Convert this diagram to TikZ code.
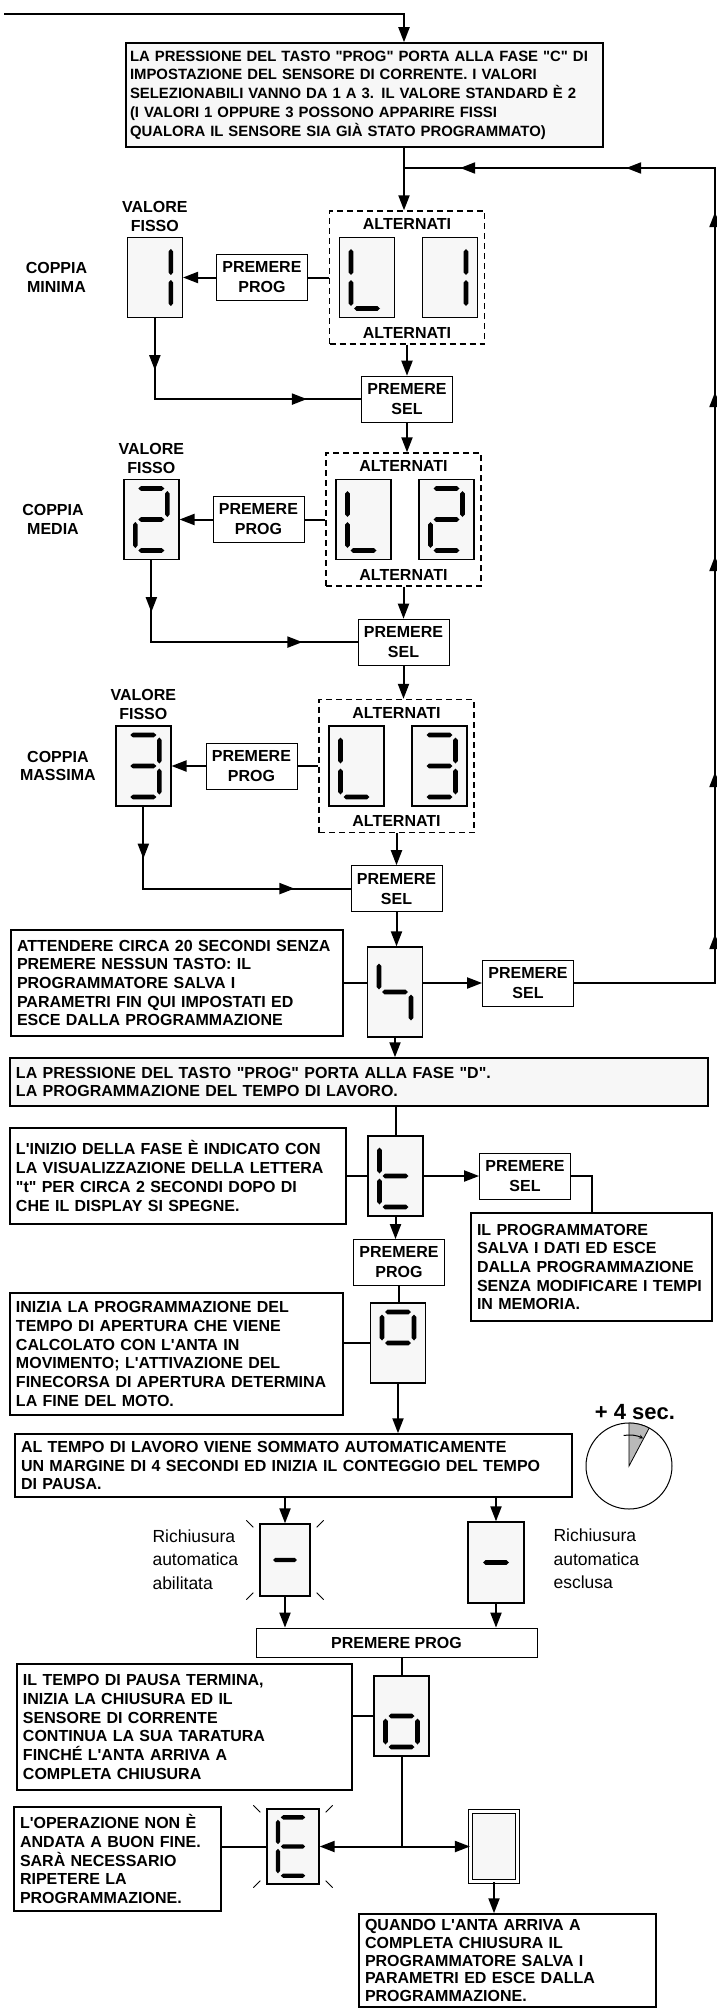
\documentclass[tikz,border=0pt]{standalone}
\usepackage{fontspec}
\setmainfont{Liberation Sans}
\usetikzlibrary{positioning,arrows.meta,decorations.markings}

% straight apostrophe and quotes as in the original
\newcommand{\ap}{\textquotesingle}
\newcommand{\qq}{\textquotedbl}
% segments of a seven-segment digit (coordinates from the display centre)
\newcommand{\hseg}[1]{\fill (-13,#1) -- (-10.5,#1-2.3) -- (10.5,#1-2.3) -- (13,#1) -- (10.5,#1+2.3) -- (-10.5,#1+2.3) -- cycle;}
\newcommand{\vseg}[3]{\fill (#1,#2) -- (#1+2.3,#2+2.5) -- (#1+2.3,#3-2.5) -- (#1,#3) -- (#1-2.3,#3-2.5) -- (#1-2.3,#2+2.5) -- cycle;}
\newcommand{\dsega}{\hseg{-31}}
\newcommand{\dsegb}{\vseg{16}{-28.5}{-2.5}}
\newcommand{\dsegc}{\vseg{16}{2.5}{28.5}}
\newcommand{\dsegd}{\hseg{31}}
\newcommand{\dsege}{\vseg{-16}{2.5}{28.5}}
\newcommand{\dsegf}{\vseg{-16}{-28.5}{-2.5}}
\newcommand{\dsegg}{\hseg{0}}
\newcommand{\segdigit}[3][1]{%
  \begin{scope}[shift={(#2.center)},scale=#1]
    \foreach \s in {#3}{\csname dseg\s\endcsname}
  \end{scope}}
% little rays round a blinking display
\newcommand{\blinkrays}[1]{\draw[blinkray] ([shift={(-13,-3)}]#1.north west) -- ++(7,7)
  ([shift={(13,-3)}]#1.north east) -- ++(-7,7)
  ([shift={(-13,3)}]#1.south west) -- ++(7,-7)
  ([shift={(13,3)}]#1.south east) -- ++(-7,-7);}

\begin{document}
\begin{tikzpicture}[x=1pt,y=-1pt,
  every node/.style={font=\bfseries\fontsize{16}{18.7}\selectfont},
  txtbox/.style={draw,line width=1.5pt,align=left,inner xsep=6pt,inner ysep=2pt},
  greybox/.style={txtbox,fill=gray!6},
  keybox/.style={draw,line width=0.8pt,align=center,minimum width=91pt,minimum height=46pt,inner sep=1pt,font=\bfseries\fontsize{16}{20}\selectfont},
  altbox/.style={draw,dash pattern=on 6pt off 4pt,line width=1.4pt,minimum width=155pt,minimum height=133pt,inner sep=0pt},
  disp/.style={draw,line width=1.3pt,fill=gray!6,minimum width=55pt,minimum height=80pt,inner sep=0pt},
  flow/.style={line width=2pt},
  arr/.style={flow,-{Triangle[length=15pt,width=11pt]}},
  midtip/.style={postaction={decorate,decoration={markings,mark=at position #1 with {\arrow{Triangle[length=15pt,width=11pt]}}}}},
  blinkray/.style={line width=0.8pt},
  note/.style={font=\fontsize{17.5}{23.5}\selectfont,align=left}]
\useasboundingbox (0,0) rectangle (716,2009);

% phase C
\coordinate (entry) at (4,14);
\coordinate (j1) at (404,168);
\coordinate (rr) at (715,168);
\node[greybox,inner xsep=4pt,text width=469pt,minimum height=104pt,font=\bfseries\fontsize{14.9}{18.7}\selectfont] (intro) at (364.5,95) {LA PRESSIONE DEL TASTO \qq PROG\qq{} PORTA ALLA FASE \qq C\qq{} DI\\IMPOSTAZIONE DEL SENSORE DI CORRENTE. I VALORI\\SELEZIONABILI VANNO DA 1 A 3. IL VALORE STANDARD È 2\\(I VALORI 1 OPPURE 3 POSSONO APPARIRE FISSI\\QUALORA IL SENSORE SIA GIÀ STATO PROGRAMMATO)};

% coppia minima
\node[altbox] (alt1) at (407,277.5) {};
\node[disp] (a1l) at ([xshift=-40pt]alt1.center) {};
\node[disp] (a1r) at ([xshift=43pt]alt1.center) {};
\node[below=5pt of alt1.north] (t1a) {ALTERNATI};
\node[above=3pt of alt1.south] (t1b) {ALTERNATI};
\node[keybox,left=21pt of alt1] (prog1) {PREMERE\\PROG};
\node[disp,left=33pt of prog1] (fix1) {};
\node[align=center,above=2pt of fix1] (v1) {VALORE\\FISSO};
\node[align=center,left=36pt of fix1] (c1) {COPPIA\\MINIMA};
\node[keybox,below=31pt of alt1] (sel1) {PREMERE\\SEL};

% coppia media
\node[altbox] (alt2) at (403.5,519.5) {};
\node[disp] (a2l) at ([xshift=-40pt]alt2.center) {};
\node[disp] (a2r) at ([xshift=43pt]alt2.center) {};
\node[below=5pt of alt2.north] (t2a) {ALTERNATI};
\node[above=3pt of alt2.south] (t2b) {ALTERNATI};
\node[keybox,left=21pt of alt2] (prog2) {PREMERE\\PROG};
\node[disp,left=33pt of prog2] (fix2) {};
\node[align=center,above=2pt of fix2] (v2) {VALORE\\FISSO};
\node[align=center,left=36pt of fix2] (c2) {COPPIA\\MEDIA};
\node[keybox,below=32pt of alt2] (sel2) {PREMERE\\SEL};

% coppia massima
\node[altbox] (alt3) at (396.5,766) {};
\node[disp] (a3l) at ([xshift=-40pt]alt3.center) {};
\node[disp] (a3r) at ([xshift=43pt]alt3.center) {};
\node[below=5pt of alt3.north] (t3a) {ALTERNATI};
\node[above=3pt of alt3.south] (t3b) {ALTERNATI};
\node[keybox,left=21pt of alt3] (prog3) {PREMERE\\PROG};
\node[disp,left=34pt of prog3] (fix3) {};
\node[align=center,above=2pt of fix3] (v3) {VALORE\\FISSO};
\node[align=center,left=16pt of fix3] (c3) {COPPIA\\MASSIMA};
\node[keybox,below=32pt of alt3] (sel3) {PREMERE\\SEL};

% exit or phase D
\node[disp,minimum height=90pt] (disp4) at (395,992) {};
\node[txtbox,text width=320pt,minimum height=106pt] (wait) at (177,983) {ATTENDERE CIRCA 20 SECONDI SENZA\\PREMERE NESSUN TASTO: IL\\PROGRAMMATORE SALVA I\\PARAMETRI FIN QUI IMPOSTATI ED\\ESCE DALLA PROGRAMMAZIONE};
\node[keybox] (sel4) at (528,983) {PREMERE\\SEL};
\node[greybox,text width=686pt,minimum height=48pt] (phaseD) at (359,1082) {LA PRESSIONE DEL TASTO \qq PROG\qq{} PORTA ALLA FASE \qq D\qq.\\LA PROGRAMMAZIONE DEL TEMPO DI LAVORO.};

\node[disp] (dispt) at (395.5,1176) {};
\node[txtbox,text width=324pt,minimum height=96pt] (start) at (178,1176) {L\ap INIZIO DELLA FASE È INDICATO CON\\LA VISUALIZZAZIONE DELLA LETTERA\\\qq t\qq{} PER CIRCA 2 SECONDI DOPO DI\\CHE IL DISPLAY SI SPEGNE.};
\node[keybox] (sel5) at (525,1176) {PREMERE\\SEL};
\node[txtbox,text width=229pt,minimum height=108pt] (save) at (591.5,1267) {IL PROGRAMMATORE\\SALVA I DATI ED ESCE\\DALLA PROGRAMMAZIONE\\SENZA MODIFICARE I TEMPI\\IN MEMORIA.};
\node[keybox] (prog5) at (399,1262.5) {PREMERE\\PROG};

\node[disp] (disp0) at (398,1343) {};
\node[txtbox,text width=321pt,minimum height=122pt] (init) at (176.5,1354) {INIZIA LA PROGRAMMAZIONE DEL\\TEMPO DI APERTURA CHE VIENE\\CALCOLATO CON L\ap ANTA IN\\MOVIMENTO; L\ap ATTIVAZIONE DEL\\FINECORSA DI APERTURA DETERMINA\\LA FINE DEL MOTO.};
\node[txtbox,text width=545pt,minimum height=63pt] (pause) at (293.5,1465.5) {AL TEMPO DI LAVORO VIENE SOMMATO AUTOMATICAMENTE\\UN MARGINE DI 4 SECONDI ED INIZIA IL CONTEGGIO DEL TEMPO\\DI PAUSA.};

% clock
\coordinate (clk) at (629,1466);
\draw[line width=1pt] (clk) circle[radius=43];
\filldraw[fill=gray!55,line width=0.8pt] (clk) -- ++(-90:43) arc[start angle=-90,end angle=-62,radius=43] -- cycle;
\draw[line width=1pt,-{Stealth[length=4pt,width=4pt]}] (clk) ++(-100:31) arc[start angle=-100,end angle=-63,radius=31];
\node[font=\bfseries\fontsize{22}{24}\selectfont] (secs) at (635,1412) {+ 4 sec.};

% richiusura
\node[disp,minimum width=50pt,minimum height=72pt] (dash1) at (285,1560) {};
\node[disp,minimum width=56pt,minimum height=81pt] (dash2) at (496,1562.5) {};
\node[note,anchor=west] (rich1) at (149,1559.5) {Richiusura\\automatica\\abilitata};
\node[note,anchor=west] (rich2) at (550,1559) {Richiusura\\automatica\\esclusa};
\node[keybox,minimum width=281pt,minimum height=29pt] (progW) at (396.5,1642.5) {PREMERE PROG};

% closing
\node[disp] (dispo) at (401.5,1716) {};
\node[txtbox,text width=323pt,minimum height=126pt] (close) at (184.5,1727) {IL TEMPO DI PAUSA TERMINA,\\INIZIA LA CHIUSURA ED IL\\SENSORE DI CORRENTE\\CONTINUA LA SUA TARATURA\\FINCHÉ L\ap ANTA ARRIVA A\\COMPLETA CHIUSURA};
\node[disp,minimum width=52pt,minimum height=75pt] (dispE) at (293,1846.5) {};
\node[txtbox,text width=195pt,minimum height=104pt] (fail) at (117.5,1859) {L\ap OPERAZIONE NON È\\ANDATA A BUON FINE.\\SARÀ NECESSARIO\\RIPETERE LA\\PROGRAMMAZIONE.};
\node[disp,double=white,double distance=3.3pt,line width=1.1pt,minimum width=47pt,minimum height=70pt] (blank) at (494,1846.5) {};
\node[txtbox,text width=285pt,minimum height=93pt,font=\bfseries\fontsize{16}{17.8}\selectfont] (done) at (507.5,1960.5) {QUANDO L\ap ANTA ARRIVA A\\COMPLETA CHIUSURA IL\\PROGRAMMATORE SALVA I\\PARAMETRI ED ESCE DALLA\\PROGRAMMAZIONE.};

% digits
\segdigit{fix1}{b,c}
\segdigit{a1l}{f,e,d}
\segdigit{a1r}{b,c}
\segdigit{fix2}{a,b,g,e,d}
\segdigit{a2l}{f,e,d}
\segdigit{a2r}{a,b,g,e,d}
\segdigit{fix3}{a,b,g,c,d}
\segdigit{a3l}{f,e,d}
\segdigit{a3r}{a,b,g,c,d}
\segdigit{disp4}{f,g,c}
\segdigit{dispt}{f,e,g,d}
\segdigit{disp0}{a,b,f,g}
\segdigit[0.92]{dash1}{g}
\segdigit{dash2}{g}
\segdigit{dispo}{g,c,d,e}
\segdigit[0.94]{dispE}{a,f,g,e,d}
\blinkrays{dash1}
\blinkrays{dispE}

% connectors
\draw[arr] (entry) -| (intro.north -| j1);
\draw[flow] (intro.south -| j1) -- (j1);
\draw[arr] (j1) -- (j1 |- alt1.north);
\draw[flow,midtip=190pt,midtip=352pt,midtip=568pt,midtip=732pt,midtip=912pt,midtip=1045pt,midtip=1211pt] (sel4.east) -| (rr) -- (j1);

\draw[flow] (alt1.west) -- (prog1.east);
\draw[arr] (prog1.west) -- (fix1.east);
\draw[flow,midtip=52pt,midtip=233pt] (fix1.south) |- (sel1.west);
\draw[arr] (alt1.south) -- (sel1.north);
\draw[arr] (sel1.south) -- (sel1.south |- alt2.north);

\draw[flow] (alt2.west) -- (prog2.east);
\draw[arr] (prog2.west) -- (fix2.east);
\draw[flow,midtip=52pt,midtip=233pt] (fix2.south) |- (sel2.west);
\draw[arr] (alt2.south) -- (sel2.north);
\draw[arr] (sel2.south) -- (sel2.south |- alt3.north);

\draw[flow] (alt3.west) -- (prog3.east);
\draw[arr] (prog3.west) -- (fix3.east);
\draw[flow,midtip=52pt,midtip=233pt] (fix3.south) |- (sel3.west);
\draw[arr] (alt3.south) -- (sel3.north);
\draw[arr] (sel3.south) -- (sel3.south |- disp4.north);

\draw[flow] (wait.east) -- (wait.east -| disp4.west);
\draw[arr] (wait.east -| disp4.east) -- (sel4.west);
\draw[arr] (disp4.south) -- (disp4.south |- phaseD.north);

\draw[flow] (dispt.north |- phaseD.south) -- (dispt.north);
\draw[flow] (start.east) -- (dispt.west);
\draw[arr] (dispt.east) -- (sel5.west);
\draw[flow] (sel5.east) -| (save.north);
\draw[arr] (dispt.south) -- (dispt.south |- prog5.north);
\draw[flow] (prog5.south) -- (prog5.south |- disp0.north);
\draw[flow] (init.east |- disp0.west) -- (disp0.west);
\draw[arr] (disp0.south) -- (disp0.south |- pause.north);

\draw[arr] (pause.south -| dash1) -- (dash1.north);
\draw[arr] (pause.south -| dash2) -- (dash2.north);
\draw[arr] (dash1.south) -- (dash1.south |- progW.north);
\draw[arr] (dash2.south) -- (dash2.south |- progW.north);
\draw[flow] (progW.south -| dispo) -- (dispo.north);
\draw[flow] (close.east |- dispo.west) -- (dispo.west);

\coordinate (jE) at (dispo.south |- dispE.east);
\draw[flow] (dispo.south) -- (jE);
\draw[arr] (jE) -- (dispE.east);
\draw[arr] (jE) -- (blank.west);
\draw[flow] (fail.east |- dispE.west) -- (dispE.west);
\draw[arr] (blank.south) -- (blank.south |- done.north);
\end{tikzpicture}
\end{document}
